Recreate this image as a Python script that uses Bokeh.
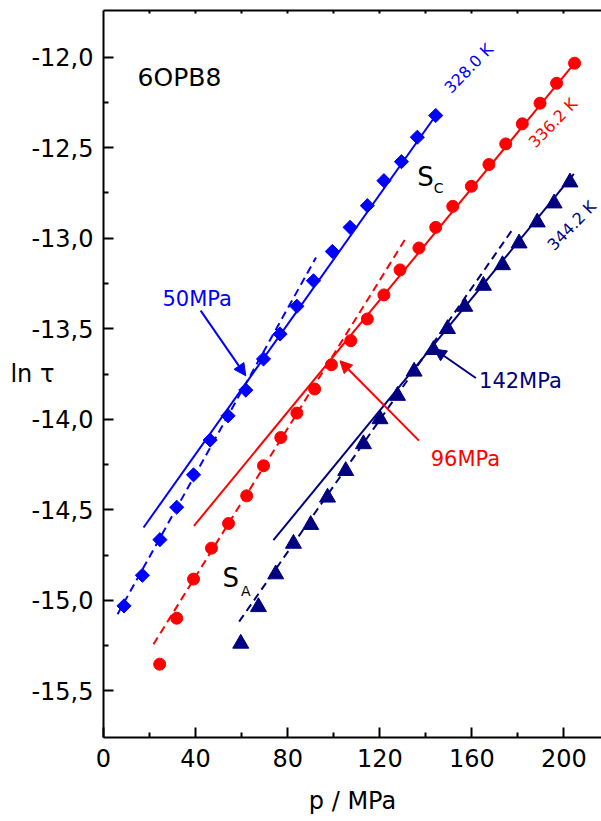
from bokeh.plotting import figure
from bokeh.models import LinearAxis, FixedTicker, Label, Arrow, NormalHead, Range1d
from bokeh.embed import file_html
from bokeh.resources import INLINE

# ---------------- data ----------------
p_328 = [8.9, 16.9, 24.5, 31.8, 39.1, 46.3, 54.1, 61.8, 69.5, 76.7, 84.0, 91.2,
         99.4, 107.1, 114.6, 121.8, 129.4, 136.3, 144.3]
lnt_328 = [-15.031, -14.862, -14.665, -14.486, -14.307, -14.115, -13.981, -13.839,
           -13.667, -13.529, -13.376, -13.235, -13.073, -12.940, -12.820, -12.682,
           -12.577, -12.442, -12.322]

p_336 = [24.4, 31.8, 39.1, 46.9, 54.3, 62.2, 69.5, 77.0, 84.0, 91.7, 99.0, 107.4,
         114.6, 121.8, 128.8, 137.0, 144.3, 151.7, 159.8, 167.4, 174.7, 181.9,
         189.6, 196.8, 204.6]
lnt_336 = [-15.353, -15.099, -14.883, -14.712, -14.576, -14.423, -14.257, -14.101,
           -13.966, -13.833, -13.699, -13.566, -13.446, -13.313, -13.175, -13.054,
           -12.940, -12.824, -12.713, -12.593, -12.479, -12.368, -12.254, -12.144,
           -12.033]

p_344 = [59.6, 67.3, 74.8, 82.5, 90.0, 97.3, 105.2, 112.9, 120.1, 127.7, 134.9,
         143.3, 149.4, 156.9, 165.0, 173.3, 180.5, 188.4, 195.7, 202.6]
lnt_344 = [-15.239, -15.037, -14.856, -14.687, -14.583, -14.432, -14.285, -14.137,
           -13.999, -13.870, -13.736, -13.617, -13.501, -13.378, -13.262, -13.148,
           -13.028, -12.912, -12.807, -12.691]

# fit lines (end points): solid = Sc fit, dashed = SA fit
fit_328_solid_p = [17.4, 144.3]
fit_328_solid_y = [-14.598, -12.322]
fit_328_dash_p = [6.1, 92.3]
fit_328_dash_y = [-15.077, -13.106]
fit_336_solid_p = [39.3, 204.6]
fit_336_solid_y = [-14.589, -12.033]
fit_336_dash_p = [21.7, 132.0]
fit_336_dash_y = [-15.243, -12.986]
fit_344_solid_p = [73.8, 204.3]
fit_344_solid_y = [-14.668, -12.645]
fit_344_dash_p = [58.9, 178.3]
fit_344_dash_y = [-15.118, -12.940]

x_ticks = [0, 40, 80, 120, 160, 200]
x_minor = [20, 60, 100, 140, 180]
top_ticks = [20, 40, 60, 80, 100, 120, 140, 160, 180, 200]
y_ticks = [-15.5, -15.0, -14.5, -14.0, -13.5, -13.0, -12.5, -12.0]
y_tick_labels = ["-15,5", "-15,0", "-14,5", "-14,0", "-13,5", "-13,0", "-12,5", "-12,0"]
y_minor = [-15.25, -14.75, -14.25, -13.75, -13.25, -12.75, -12.25]

BLUE = "#0000ff"
RED = "#ff0000"
NAVY = "#000080"
FONT = "DejaVu Sans"

# ---------------- figure ----------------
p = figure(width=601, height=821, output_backend="svg", toolbar_location=None,
           x_range=Range1d(0, 216.3), y_range=Range1d(-15.758, -11.742),
           min_border_left=103, min_border_right=0, min_border_top=10,
           min_border_bottom=84, background_fill_color="white",
           border_fill_color="white")
p.xgrid.visible = False
p.ygrid.visible = False
p.outline_line_color = None

for ax in (p.xaxis[0], p.yaxis[0]):
    ax.axis_line_width = 2
    ax.axis_line_color = "black"
    ax.major_tick_in = 10
    ax.major_tick_out = 0
    ax.minor_tick_in = 5
    ax.minor_tick_out = 0
    ax.major_tick_line_width = 2
    ax.minor_tick_line_width = 2
    ax.major_tick_line_color = "black"
    ax.minor_tick_line_color = "black"
    ax.major_label_text_font = FONT
    ax.major_label_text_font_size = "24px"
    ax.major_label_text_color = "black"
    ax.axis_label_text_font = FONT
    ax.axis_label_text_font_size = "24px"
    ax.axis_label_text_font_style = "normal"
    ax.axis_label_text_color = "black"

p.xaxis.ticker = FixedTicker(ticks=x_ticks, minor_ticks=x_minor)
p.xaxis.major_label_standoff = 11
p.xaxis.axis_label = "p / MPa"
p.xaxis.axis_label_standoff = 17

p.yaxis.ticker = FixedTicker(ticks=y_ticks, minor_ticks=y_minor)
p.yaxis.major_label_overrides = dict(zip(y_ticks, y_tick_labels))
p.yaxis.major_label_standoff = 10
p.yaxis.axis_label = "ln τ"
p.yaxis.axis_label_orientation = "horizontal"
p.yaxis.axis_label_standoff = -26

top = LinearAxis(ticker=FixedTicker(ticks=top_ticks, minor_ticks=[]),
                 axis_line_width=2, major_tick_in=3, major_tick_out=0,
                 major_tick_line_width=2, minor_tick_line_color=None,
                 major_label_text_font_size="1px", major_label_text_alpha=0,
                 major_label_standoff=0)
p.add_layout(top, "above")

# ---------------- fit lines ----------------
p.line(fit_328_solid_p, fit_328_solid_y, line_color=BLUE, line_width=2)
p.line(fit_328_dash_p, fit_328_dash_y, line_color=BLUE, line_width=2, line_dash="8 5")
p.line(fit_336_solid_p, fit_336_solid_y, line_color=RED, line_width=2)
p.line(fit_336_dash_p, fit_336_dash_y, line_color=RED, line_width=2, line_dash="8 5")
p.line(fit_344_solid_p, fit_344_solid_y, line_color=NAVY, line_width=2)
p.line(fit_344_dash_p, fit_344_dash_y, line_color=NAVY, line_width=2, line_dash="8 5")

# ---------------- data points ----------------
p.scatter(p_328, lnt_328, marker="square", angle=0.785398, size=10,
          fill_color=BLUE, line_color=BLUE)
p.scatter(p_336, lnt_336, marker="circle", size=12, fill_color=RED, line_color=RED)
p.scatter(p_344, lnt_344, marker="triangle", size=16, fill_color=NAVY, line_color=NAVY)

# ---------------- annotations ----------------
def lab(x, y, text, color="black", size="21px", angle=0.0, align="left"):
    p.add_layout(Label(x=x, y=y, text=text, text_color=color, text_font=FONT,
                       text_font_size=size, angle=angle, text_align=align,
                       text_baseline="middle"))

lab(14.8, -12.111, "6OPB8", size="25px")
lab(158.6, -12.062, "328.0 K", BLUE, "16px", 0.80, "center")
lab(195.2, -12.363, "336.2 K", RED, "16px", 0.80, "center")
lab(203.4, -12.930, "344.2 K", NAVY, "16px", 0.80, "center")
lab(139.9, -12.659, "S", "black", "26px", 0.0, "center")
lab(145.6, -12.723, "C", "black", "14px", 0.0, "center")
lab(55.3, -14.876, "S", "black", "26px", 0.0, "center")
lab(61.8, -14.948, "A", "black", "14px", 0.0, "center")
lab(25.6, -13.334, "50MPa", BLUE)
lab(142.1, -14.218, "96MPa", RED)
lab(163.1, -13.787, "142MPa", NAVY)

def arrow(x0, y0, x1, y1, color):
    p.add_layout(Arrow(x_start=x0, y_start=y0, x_end=x1, y_end=y1,
                       line_color=color, line_width=2,
                       end=NormalHead(size=12, fill_color=color, line_color=color)))

arrow(42.2, -13.400, 61.8, -13.760, BLUE)
arrow(137.0, -14.118, 102.7, -13.677, RED)
arrow(161.7, -13.772, 143.6, -13.612, NAVY)

open("out.html", "w").write(file_html(p, INLINE))
